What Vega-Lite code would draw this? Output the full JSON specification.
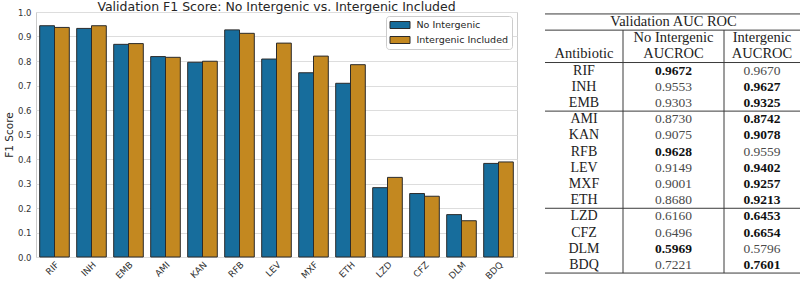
{
  "$schema": "https://vega.github.io/schema/vega-lite/v6.json",
  "padding": {"left": 3, "right": 3, "top": 0, "bottom": 0},
  "background": "white",
  "spacing": 26,
  "config": {
    "font": "DejaVu Sans",
    "view": {"stroke": null},
    "title": {"font": "DejaVu Sans", "fontWeight": "normal", "color": "#262626"},
    "axis": {"labelFont": "DejaVu Sans", "titleFont": "DejaVu Sans", "labelColor": "#333333", "titleColor": "#262626", "titleFontWeight": "normal"},
    "legend": {"labelFont": "DejaVu Sans", "labelColor": "#262626"}
  },
  "datasets": {
    "f1": [
      {"antibiotic": "RIF", "model": "No Intergenic", "f1": 0.944},
      {"antibiotic": "RIF", "model": "Intergenic Included", "f1": 0.937},
      {"antibiotic": "INH", "model": "No Intergenic", "f1": 0.933},
      {"antibiotic": "INH", "model": "Intergenic Included", "f1": 0.944},
      {"antibiotic": "EMB", "model": "No Intergenic", "f1": 0.868},
      {"antibiotic": "EMB", "model": "Intergenic Included", "f1": 0.871},
      {"antibiotic": "AMI", "model": "No Intergenic", "f1": 0.818},
      {"antibiotic": "AMI", "model": "Intergenic Included", "f1": 0.815},
      {"antibiotic": "KAN", "model": "No Intergenic", "f1": 0.795},
      {"antibiotic": "KAN", "model": "Intergenic Included", "f1": 0.799},
      {"antibiotic": "RFB", "model": "No Intergenic", "f1": 0.927},
      {"antibiotic": "RFB", "model": "Intergenic Included", "f1": 0.913},
      {"antibiotic": "LEV", "model": "No Intergenic", "f1": 0.808},
      {"antibiotic": "LEV", "model": "Intergenic Included", "f1": 0.873},
      {"antibiotic": "MXF", "model": "No Intergenic", "f1": 0.752},
      {"antibiotic": "MXF", "model": "Intergenic Included", "f1": 0.820},
      {"antibiotic": "ETH", "model": "No Intergenic", "f1": 0.709},
      {"antibiotic": "ETH", "model": "Intergenic Included", "f1": 0.785},
      {"antibiotic": "LZD", "model": "No Intergenic", "f1": 0.283},
      {"antibiotic": "LZD", "model": "Intergenic Included", "f1": 0.325},
      {"antibiotic": "CFZ", "model": "No Intergenic", "f1": 0.259},
      {"antibiotic": "CFZ", "model": "Intergenic Included", "f1": 0.248},
      {"antibiotic": "DLM", "model": "No Intergenic", "f1": 0.173},
      {"antibiotic": "DLM", "model": "Intergenic Included", "f1": 0.148},
      {"antibiotic": "BDQ", "model": "No Intergenic", "f1": 0.382},
      {"antibiotic": "BDQ", "model": "Intergenic Included", "f1": 0.388}
    ],
    "auc": [
      {"antibiotic": "RIF", "no_intergenic": 0.9672, "intergenic": 0.9670},
      {"antibiotic": "INH", "no_intergenic": 0.9553, "intergenic": 0.9627},
      {"antibiotic": "EMB", "no_intergenic": 0.9303, "intergenic": 0.9325},
      {"antibiotic": "AMI", "no_intergenic": 0.8730, "intergenic": 0.8742},
      {"antibiotic": "KAN", "no_intergenic": 0.9075, "intergenic": 0.9078},
      {"antibiotic": "RFB", "no_intergenic": 0.9628, "intergenic": 0.9559},
      {"antibiotic": "LEV", "no_intergenic": 0.9149, "intergenic": 0.9402},
      {"antibiotic": "MXF", "no_intergenic": 0.9001, "intergenic": 0.9257},
      {"antibiotic": "ETH", "no_intergenic": 0.8680, "intergenic": 0.9213},
      {"antibiotic": "LZD", "no_intergenic": 0.6160, "intergenic": 0.6453},
      {"antibiotic": "CFZ", "no_intergenic": 0.6496, "intergenic": 0.6654},
      {"antibiotic": "DLM", "no_intergenic": 0.5969, "intergenic": 0.5796},
      {"antibiotic": "BDQ", "no_intergenic": 0.7221, "intergenic": 0.7601}
    ],
    "header": [
      {"row": "title", "column": "No Intergenic", "label": "Validation AUC ROC"},
      {"row": "groups", "column": "No Intergenic", "label": "No Intergenic"},
      {"row": "groups", "column": "Intergenic", "label": "Intergenic"},
      {"row": "metric", "column": "Antibiotic", "label": "Antibiotic"},
      {"row": "metric", "column": "No Intergenic", "label": "AUCROC"},
      {"row": "metric", "column": "Intergenic", "label": "AUCROC"}
    ],
    "hlines": [
      {"above": "title"},
      {"above": "groups"},
      {"above": "RIF"},
      {"above": "AMI"},
      {"above": "LZD"}
    ]
  },
  "hconcat": [
    {
      "width": 481,
      "height": 245,
      "view": {"stroke": "#cccccc", "strokeWidth": 1},
      "title": {"text": "Validation F1 Score: No Intergenic vs. Intergenic Included", "fontSize": 12.5, "offset": -5},
      "data": {"name": "f1"},
      "mark": {"type": "bar", "stroke": "#2b2b2b", "strokeWidth": 1},
      "encoding": {
        "x": {
          "field": "antibiotic", "type": "nominal",
          "sort": ["RIF", "INH", "EMB", "AMI", "KAN", "RFB", "LEV", "MXF", "ETH", "LZD", "CFZ", "DLM", "BDQ"],
          "scale": {"paddingInner": 0.2, "paddingOuter": 0.1},
          "axis": {"title": null, "labelAngle": -45, "labelFontSize": 9, "ticks": false, "domain": false, "labelPadding": 3, "grid": false}
        },
        "xOffset": {"field": "model", "type": "nominal", "sort": ["No Intergenic", "Intergenic Included"]},
        "y": {
          "field": "f1", "type": "quantitative",
          "scale": {"domain": [0, 1], "nice": false},
          "axis": {"title": "F1 Score", "titleFontSize": 10.5, "titlePadding": 3, "values": [0, 0.1, 0.2, 0.3, 0.4, 0.5, 0.6, 0.7, 0.8, 0.9, 1.0], "format": ".1f", "labelFontSize": 8.5, "ticks": false, "domain": false, "labelPadding": 5, "grid": true, "gridColor": "#dddddd", "gridWidth": 1}
        },
        "color": {
          "field": "model", "type": "nominal",
          "scale": {"domain": ["No Intergenic", "Intergenic Included"], "range": ["#176d9c", "#c38820"]},
          "legend": {
            "title": null, "orient": "none", "legendX": 350, "legendY": 4,
            "fillColor": "white", "strokeColor": "#cccccc", "cornerRadius": 3, "padding": 3.5,
            "symbolType": "M-2,-0.7L2,-0.7L2,0.7L-2,0.7Z", "symbolSize": 100, "symbolOffset": 5,
            "symbolStrokeColor": "#2b2b2b", "symbolStrokeWidth": 1, "symbolOpacity": 1,
            "labelFontSize": 9.5, "rowPadding": 4, "labelOffset": 11
          }
        }
      }
    },
    {
      "width": 255,
      "height": 263,
      "view": {"stroke": null},
      "layer": [
        {
          "data": {"name": "hlines"},
          "mark": {"type": "rule", "color": "#3a3a3a", "strokeWidth": 1},
          "encoding": {
            "x": {"datum": -0.5, "type": "quantitative", "scale": {"domain": [-0.5, 0.5, 1.5, 2.5], "range": [0, 78, 179, 255], "nice": false, "zero": false}, "axis": null},
            "x2": {"datum": 2.5},
            "y": {"field": "above", "type": "nominal", "bandPosition": 0,
                  "scale": {"domain": ["title", "groups", "metric", "RIF", "INH", "EMB", "AMI", "KAN", "RFB", "LEV", "MXF", "ETH", "LZD", "CFZ", "DLM", "BDQ"], "paddingInner": 0, "paddingOuter": 0.12},
                  "axis": null}
          }
        },
        {
          "data": {"values": [{"edge": "bottom"}]},
          "mark": {"type": "rule", "color": "#3a3a3a", "strokeWidth": 1},
          "encoding": {
            "x": {"datum": -0.5, "type": "quantitative", "axis": null},
            "x2": {"datum": 2.5},
            "y": {"datum": "BDQ", "type": "nominal", "bandPosition": 1, "axis": null}
          }
        },
        {
          "data": {"values": [{"divider": 0.5}, {"divider": 1.5}]},
          "mark": {"type": "rule", "color": "#3a3a3a", "strokeWidth": 1},
          "encoding": {
            "x": {"field": "divider", "type": "quantitative", "axis": null},
            "y": {"datum": "groups", "type": "nominal", "bandPosition": 0, "axis": null},
            "y2": {"datum": "BDQ", "bandPosition": 1}
          }
        },
        {
          "data": {"name": "header"},
          "transform": [{"filter": "datum.column === 'Antibiotic'"}],
          "mark": {"type": "text", "font": "Liberation Serif", "fontSize": 14.5, "color": "#222222", "baseline": "middle"},
          "encoding": {
            "x": {"datum": 0, "type": "quantitative", "axis": null},
            "y": {"field": "row", "type": "nominal", "axis": null},
            "text": {"field": "label"}
          }
        },
        {
          "data": {"name": "header"},
          "transform": [{"filter": "datum.column === 'No Intergenic'"}],
          "mark": {"type": "text", "font": "Liberation Serif", "fontSize": 14.5, "color": "#222222", "baseline": "middle"},
          "encoding": {
            "x": {"datum": 1, "type": "quantitative", "axis": null},
            "y": {"field": "row", "type": "nominal", "axis": null},
            "text": {"field": "label"}
          }
        },
        {
          "data": {"name": "header"},
          "transform": [{"filter": "datum.column === 'Intergenic'"}],
          "mark": {"type": "text", "font": "Liberation Serif", "fontSize": 14.5, "color": "#222222", "baseline": "middle"},
          "encoding": {
            "x": {"datum": 2, "type": "quantitative", "axis": null},
            "y": {"field": "row", "type": "nominal", "axis": null},
            "text": {"field": "label"}
          }
        },
        {
          "data": {"name": "auc"},
          "mark": {"type": "text", "font": "Liberation Serif", "fontSize": 14, "color": "#222222", "baseline": "middle"},
          "encoding": {
            "x": {"datum": 0, "type": "quantitative", "axis": null},
            "y": {"field": "antibiotic", "type": "nominal", "axis": null},
            "text": {"field": "antibiotic"}
          }
        },
        {
          "data": {"name": "auc"},
          "transform": [{"filter": "datum.no_intergenic < datum.intergenic"}],
          "mark": {"type": "text", "font": "Liberation Serif", "fontSize": 13.5, "color": "#4a4a4a", "baseline": "middle"},
          "encoding": {
            "x": {"datum": 1, "type": "quantitative", "axis": null},
            "y": {"field": "antibiotic", "type": "nominal", "axis": null},
            "text": {"field": "no_intergenic", "format": ".4f"}
          }
        },
        {
          "data": {"name": "auc"},
          "transform": [{"filter": "datum.no_intergenic > datum.intergenic"}],
          "mark": {"type": "text", "font": "Liberation Serif", "fontSize": 13.5, "fontWeight": "bold", "color": "#111111", "baseline": "middle"},
          "encoding": {
            "x": {"datum": 1, "type": "quantitative", "axis": null},
            "y": {"field": "antibiotic", "type": "nominal", "axis": null},
            "text": {"field": "no_intergenic", "format": ".4f"}
          }
        },
        {
          "data": {"name": "auc"},
          "transform": [{"filter": "datum.intergenic < datum.no_intergenic"}],
          "mark": {"type": "text", "font": "Liberation Serif", "fontSize": 13.5, "color": "#4a4a4a", "baseline": "middle"},
          "encoding": {
            "x": {"datum": 2, "type": "quantitative", "axis": null},
            "y": {"field": "antibiotic", "type": "nominal", "axis": null},
            "text": {"field": "intergenic", "format": ".4f"}
          }
        },
        {
          "data": {"name": "auc"},
          "transform": [{"filter": "datum.intergenic > datum.no_intergenic"}],
          "mark": {"type": "text", "font": "Liberation Serif", "fontSize": 13.5, "fontWeight": "bold", "color": "#111111", "baseline": "middle"},
          "encoding": {
            "x": {"datum": 2, "type": "quantitative", "axis": null},
            "y": {"field": "antibiotic", "type": "nominal", "axis": null},
            "text": {"field": "intergenic", "format": ".4f"}
          }
        }
      ]
    }
  ]
}
